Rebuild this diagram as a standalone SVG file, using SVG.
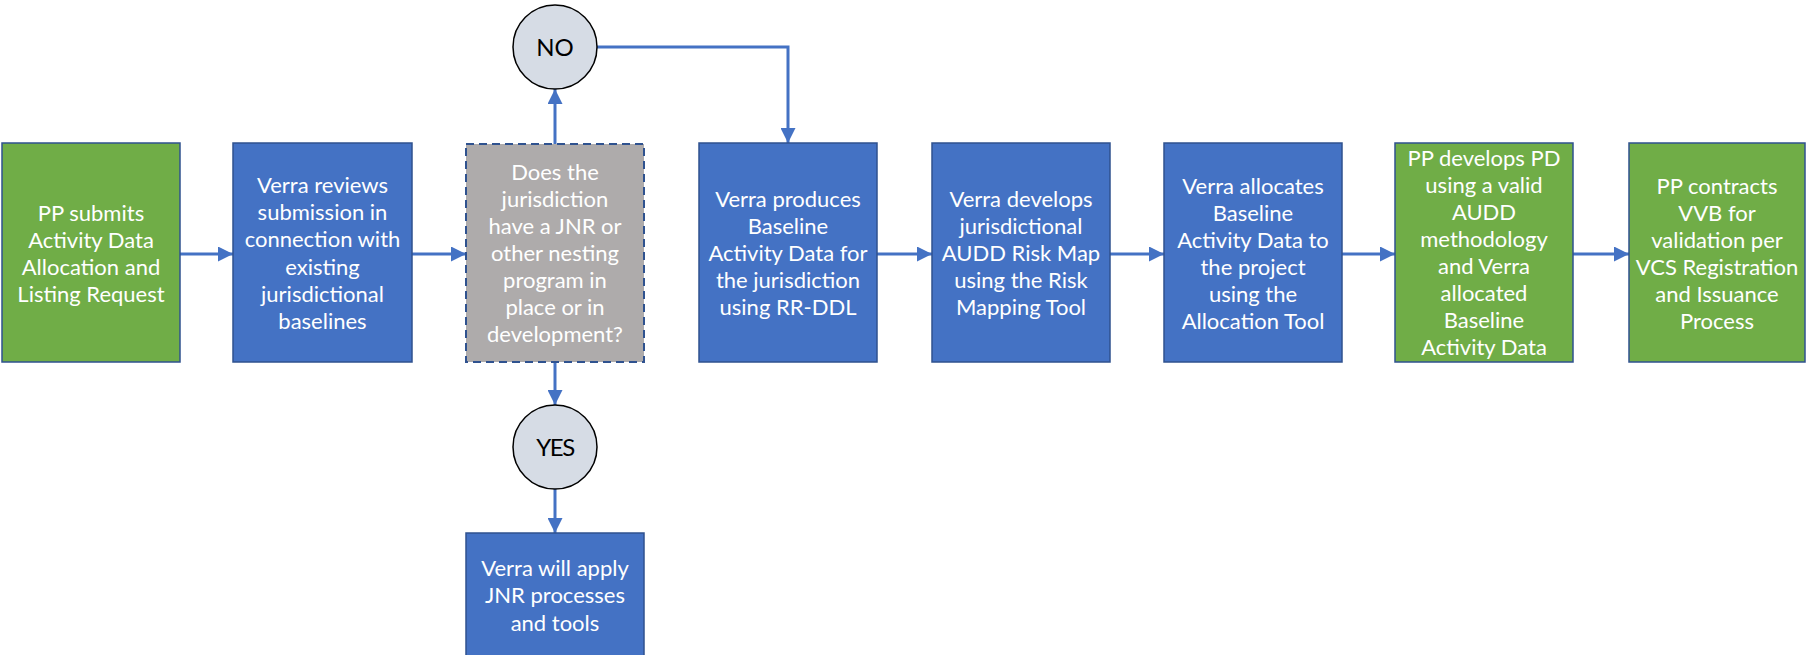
<svg xmlns="http://www.w3.org/2000/svg" width="1806" height="655" viewBox="0 0 1806 655">
<style>
.box{stroke:#2F528F;stroke-width:1.5}
.blue{fill:#4472C4}
.green{fill:#70AD47}
.gray{fill:#AEABAB;stroke-dasharray:8 5;stroke-width:2}
.circ{fill:#D6DCE5;stroke:#000;stroke-width:1.5}
.t{font-family:Lato,"Liberation Sans",sans-serif;font-size:22px;fill:#fff;text-anchor:middle}
.c{font-family:Lato,"Liberation Sans",sans-serif;font-size:24px;fill:#000;text-anchor:middle}
.conn{fill:none;stroke:#4472C4;stroke-width:3}
</style>
<defs>
<marker id="ah" markerUnits="userSpaceOnUse" markerWidth="15" markerHeight="15" viewBox="0 0 15 15" refX="15" refY="7.5" orient="auto">
<path d="M0,0 L15,7.5 L0,15 Z" fill="#4472C4"/>
</marker>
</defs>
<rect width="1806" height="655" fill="#fff"/>
<g id="connectors">
<line class="conn" x1="180" y1="254" x2="233" y2="254" marker-end="url(#ah)"/>
<line class="conn" x1="412" y1="254" x2="466" y2="254" marker-end="url(#ah)"/>
<line class="conn" x1="555" y1="144" x2="555" y2="89" marker-end="url(#ah)"/>
<polyline class="conn" points="597,47 788,47 788,143" marker-end="url(#ah)"/>
<line class="conn" x1="555" y1="362" x2="555" y2="405" marker-end="url(#ah)"/>
<line class="conn" x1="555" y1="489" x2="555" y2="533" marker-end="url(#ah)"/>
<line class="conn" x1="877" y1="254" x2="932" y2="254" marker-end="url(#ah)"/>
<line class="conn" x1="1110" y1="254" x2="1164" y2="254" marker-end="url(#ah)"/>
<line class="conn" x1="1342" y1="254" x2="1395" y2="254" marker-end="url(#ah)"/>
<line class="conn" x1="1573" y1="254" x2="1629" y2="254" marker-end="url(#ah)"/>
</g>
<g id="n1">
<rect class="box green" x="2" y="143" width="178" height="219"/>
<text class="t" x="91"><tspan x="91" y="221">PP submits</tspan><tspan x="91" y="248">Activity Data</tspan><tspan x="91" y="275">Allocation and</tspan><tspan x="91" y="302">Listing Request</tspan></text>
</g>
<g id="n2">
<rect class="box blue" x="233" y="143" width="179" height="219"/>
<text class="t"><tspan x="322.5" y="193">Verra reviews</tspan><tspan x="322.5" y="220">submission in</tspan><tspan x="322.5" y="247">connection with</tspan><tspan x="322.5" y="275">existing</tspan><tspan x="322.5" y="302">jurisdictional</tspan><tspan x="322.5" y="329">baselines</tspan></text>
</g>
<g id="n3">
<rect class="box gray" x="466" y="144" width="178" height="218"/>
<text class="t"><tspan x="555" y="180">Does the</tspan><tspan x="555" y="207">jurisdiction</tspan><tspan x="555" y="234">have a JNR or</tspan><tspan x="555" y="261">other nesting</tspan><tspan x="555" y="288">program in</tspan><tspan x="555" y="315">place or in</tspan><tspan x="555" y="342">development?</tspan></text>
</g>
<g id="no">
<circle class="circ" cx="555" cy="47" r="42"/>
<text class="c" x="555" y="56">NO</text>
</g>
<g id="yes">
<circle class="circ" cx="555" cy="447" r="42"/>
<text class="c" x="555" y="456" letter-spacing="-1.5">YES</text>
</g>
<g id="n3b">
<rect class="box blue" x="466" y="533" width="178" height="130"/>
<text class="t"><tspan x="555" y="576">Verra will apply</tspan><tspan x="555" y="603">JNR processes</tspan><tspan x="555" y="631">and tools</tspan></text>
</g>
<g id="n4">
<rect class="box blue" x="699" y="143" width="178" height="219"/>
<text class="t"><tspan x="788" y="207">Verra produces</tspan><tspan x="788" y="234">Baseline</tspan><tspan x="788" y="261">Activity Data for</tspan><tspan x="788" y="288">the jurisdiction</tspan><tspan x="788" y="315">using RR-DDL</tspan></text>
</g>
<g id="n5">
<rect class="box blue" x="932" y="143" width="178" height="219"/>
<text class="t"><tspan x="1021" y="207">Verra develops</tspan><tspan x="1021" y="234">jurisdictional</tspan><tspan x="1021" y="261">AUDD Risk Map</tspan><tspan x="1021" y="288">using the Risk</tspan><tspan x="1021" y="315">Mapping Tool</tspan></text>
</g>
<g id="n6">
<rect class="box blue" x="1164" y="143" width="178" height="219"/>
<text class="t"><tspan x="1253" y="194">Verra allocates</tspan><tspan x="1253" y="221">Baseline</tspan><tspan x="1253" y="248">Activity Data to</tspan><tspan x="1253" y="275">the project</tspan><tspan x="1253" y="302">using the</tspan><tspan x="1253" y="329">Allocation Tool</tspan></text>
</g>
<g id="n7">
<rect class="box green" x="1395" y="143" width="178" height="219"/>
<text class="t"><tspan x="1484" y="166">PP develops PD</tspan><tspan x="1484" y="193">using a valid</tspan><tspan x="1484" y="220">AUDD</tspan><tspan x="1484" y="247">methodology</tspan><tspan x="1484" y="274">and Verra</tspan><tspan x="1484" y="301">allocated</tspan><tspan x="1484" y="328">Baseline</tspan><tspan x="1484" y="355">Activity Data</tspan></text>
</g>
<g id="n8">
<rect class="box green" x="1629" y="143" width="176" height="219"/>
<text class="t"><tspan x="1717" y="194">PP contracts</tspan><tspan x="1717" y="221">VVB for</tspan><tspan x="1717" y="248">validation per</tspan><tspan x="1717" y="275">VCS Registration</tspan><tspan x="1717" y="302">and Issuance</tspan><tspan x="1717" y="329">Process</tspan></text>
</g>
</svg>
